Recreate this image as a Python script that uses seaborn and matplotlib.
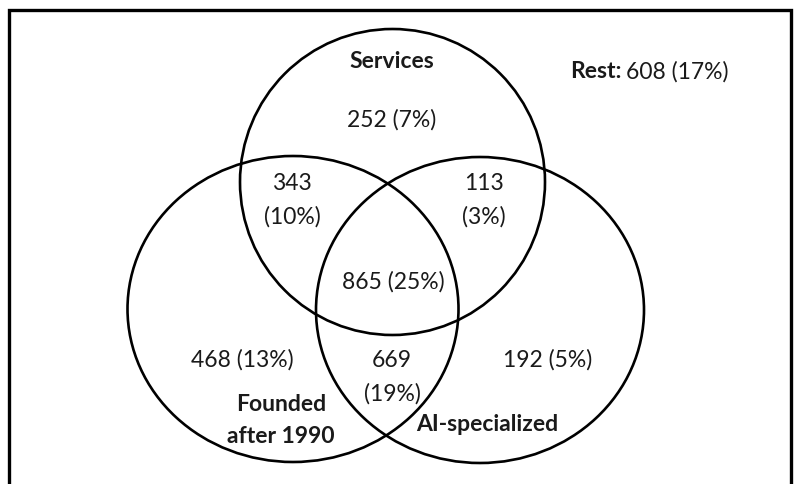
import matplotlib
matplotlib.use("Agg")
import matplotlib.pyplot as plt
from matplotlib.patches import Ellipse
import seaborn as sns

# ---- data ----
set_names = ["Services", "Founded\nafter 1990", "AI-specialized"]
region_keys = ["S", "SF", "SA", "SFA", "F", "FA", "A"]
region_counts = [252, 343, 113, 865, 468, 669, 192]
region_pcts = [7, 10, 3, 25, 13, 19, 5]
rest_count = 608
rest_pct = 17

# ---- layout (pixel coords, y down) ----
sns.set_theme(style="white")
plt.rcParams["font.family"] = ["Lato", "DejaVu Sans"]

fig = plt.figure(figsize=(8, 4.85), dpi=100)
ax = fig.add_axes([0, 0, 1, 1])
ax.set_xlim(0, 800)
ax.set_ylim(485, 0)
ax.set_axis_off()

# frame (left, top, right)
ax.plot([9, 9, 791, 791], [485, 11, 11, 485], color="black", lw=2.4,
        solid_joinstyle="miter")

ellipses = {
    "Services": ((392.5, 183), 305, 306),
    "Founded": ((293, 310), 331, 306),
    "AI": ((480, 311), 328, 306),
}
for (c, w, h) in ellipses.values():
    ax.add_patch(Ellipse(c, w, h, fill=False, edgecolor="black", lw=1.9))

fs = 16.5
col = "#1a1a1a"
positions = {
    "S": (392, 120, False),
    "SF": (292, 184, True),
    "SA": (484, 184, True),
    "SFA": (393, 282, False),
    "F": (242, 360, False),
    "FA": (392, 361, True),
    "A": (548, 360, False),
}
gap = 33
for key, cnt, pct in zip(region_keys, region_counts, region_pcts):
    x, y, two = positions[key]
    if two:
        ax.text(x, y, f"{cnt}", ha="center", va="center", fontsize=fs, color=col)
        ax.text(x, y + gap, f"({pct}%)", ha="center", va="center", fontsize=fs, color=col)
    else:
        ax.text(x, y, f"{cnt} ({pct}%)", ha="center", va="center", fontsize=fs, color=col)

name_pos = [(392, 61), (281, 405), (487, 425)]
for name, (x, y) in zip(set_names, name_pos):
    for i, line in enumerate(name.split("\n")):
        ax.text(x, y + i * 32, line, ha="center", va="center", fontsize=fs,
                fontweight="bold", color=col)

rest = ax.text(570, 72, "Rest:", ha="left", va="center", fontsize=fs,
               fontweight="bold", color=col)
ax.annotate(f"{rest_count} ({rest_pct}%)", xy=(1, 0.5), xycoords=rest,
            xytext=(5, 0), textcoords="offset pixels", ha="left", va="center",
            fontsize=fs, color=col)

fig.savefig("out.png", dpi=100, facecolor="white")
